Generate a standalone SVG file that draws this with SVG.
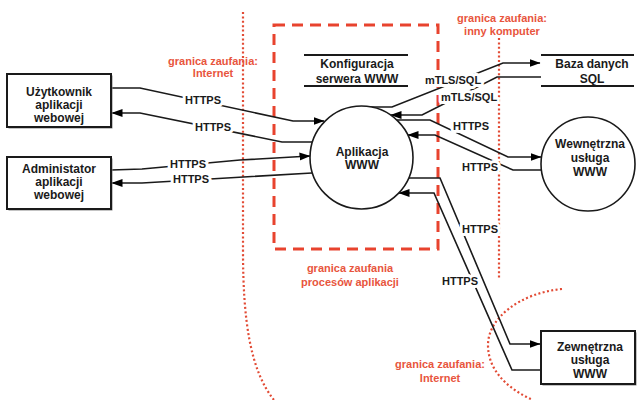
<svg xmlns="http://www.w3.org/2000/svg" width="639" height="400" viewBox="0 0 639 400">
<defs>
<marker id="ah" viewBox="0 0 11 9" markerWidth="11" markerHeight="9" refX="10.5" refY="4.5" orient="auto" markerUnits="userSpaceOnUse">
<path d="M0,0.5 L11,4.5 L0,8.5 z" fill="#000"/>
</marker>
<style>
.bnd{fill:none;stroke:#e24b35;stroke-width:2.2;stroke-dasharray:2 2.4}
.proc{fill:none;stroke:#e8432e;stroke-width:3;stroke-dasharray:11 7}
.rl{font-family:"Liberation Sans",Arial,sans-serif;font-weight:bold;font-size:11px;fill:#e8553d;text-anchor:middle}
.c{fill:none;stroke:#1a1a1a;stroke-width:1.6}
.cl{font-family:"Liberation Sans",Arial,sans-serif;font-weight:bold;font-size:11px;fill:#1a1a1a;text-anchor:middle;stroke:#fff;stroke-width:6;paint-order:stroke;stroke-linejoin:round}
.box{fill:#fff;stroke:#1a1a1a;stroke-width:2}
.sh{fill:#888}
.circ{fill:#fff;stroke:#1a1a1a;stroke-width:1.6}
.ds{stroke:#1a1a1a;stroke-width:2}
.t{font-family:"Liberation Sans",Arial,sans-serif;font-weight:bold;font-size:12px;fill:#1a1a1a;text-anchor:middle}
</style>
</defs>
<rect width="639" height="400" fill="#fff"/>

<g id="boundaries">
<path class="bnd" d="M243,12 V250 C243,320 250,370 274,400"/>
<path class="bnd" d="M499,38 V280"/>
<path class="bnd" d="M562,289 C520,293 488,318 488,345 C488,372 510,390 533,400"/>
<rect class="proc" x="274" y="25" width="164" height="224"/>
<text class="rl" x="213" y="65">granica zaufania:</text>
<text class="rl" x="213" y="77">Internet</text>
<text class="rl" x="502" y="22">granica zaufania:</text>
<text class="rl" x="502" y="35">inny komputer</text>
<text class="rl" x="350" y="272">granica zaufania</text>
<text class="rl" x="350" y="286">procesów aplikacji</text>
<text class="rl" x="440" y="368">granica zaufania:</text>
<text class="rl" x="440" y="382">Internet</text>
</g>

<g id="connectors">
<path class="c" marker-end="url(#ah)" d="M111,88 H140 L293,121 H324"/>
<path class="c" marker-end="url(#ah)" d="M312,142 H282 L140,113 H112"/>
<path class="c" marker-end="url(#ah)" d="M111,170 L142,169 L240,160 L310,156"/>
<path class="c" marker-end="url(#ah)" d="M312,173 L210,179 L142,183 H112"/>
<path class="c" marker-end="url(#ah)" d="M353,107 H392 L503,63 H540"/>
<path class="c" marker-end="url(#ah)" d="M541,77 H497 L422,115 H391"/>
<path class="c" marker-end="url(#ah)" d="M397,120 H430 L508,157 H541"/>
<path class="c" marker-end="url(#ah)" d="M541,170 H513 L435,135 H408"/>
<path class="c" marker-end="url(#ah)" d="M409,178 H440 L510,344 H540"/>
<path class="c" marker-end="url(#ah)" d="M541,370 H512 L434,193 H399"/>
<text class="cl" x="203" y="104">HTTPS</text>
<text class="cl" x="213" y="131">HTTPS</text>
<text class="cl" x="188" y="168">HTTPS</text>
<text class="cl" x="191" y="183">HTTPS</text>
<text class="cl" x="453" y="84">mTLS/SQL</text>
<text class="cl" x="469" y="101">mTLS/SQL</text>
<text class="cl" x="471" y="130">HTTPS</text>
<text class="cl" x="480" y="171">HTTPS</text>
<text class="cl" x="480" y="233">HTTPS</text>
<text class="cl" x="460" y="285">HTTPS</text>
</g>

<g id="uzytkownik">
<rect class="sh" x="8.5" y="75.5" width="104" height="53"/>
<rect class="box" x="7" y="74" width="104" height="53"/>
<text class="t" x="59" y="95.5">Użytkownik</text>
<text class="t" x="59" y="108.5">aplikacji</text>
<text class="t" x="59" y="121.5">webowej</text>
</g>

<g id="administator">
<rect class="sh" x="8.5" y="158.5" width="104" height="52"/>
<rect class="box" x="7" y="157" width="104" height="52"/>
<text class="t" x="59" y="173">Administator</text>
<text class="t" x="59" y="186">aplikacji</text>
<text class="t" x="59" y="199">webowej</text>
</g>

<g id="aplikacja">
<circle class="circ" cx="361.5" cy="157.5" r="51.5"/>
<text class="t" x="362" y="155.5">Aplikacja</text>
<text class="t" x="362" y="168.5">WWW</text>
</g>

<g id="konfiguracja">
<line class="ds" x1="304" y1="55" x2="408" y2="55"/>
<line class="ds" x1="304" y1="86" x2="408" y2="86"/>
<text class="t" x="357" y="67.5">Konfiguracja</text>
<text class="t" x="357" y="82.5">serwera WWW</text>
</g>

<g id="baza">
<line class="ds" x1="541" y1="55" x2="634" y2="55"/>
<line class="ds" x1="541" y1="86" x2="634" y2="86"/>
<text class="t" x="592" y="67.5">Baza danych</text>
<text class="t" x="592" y="82.5">SQL</text>
</g>

<g id="wewnetrzna">
<circle class="circ" cx="588" cy="164" r="47"/>
<text class="t" x="590" y="147.5">Wewnętrzna</text>
<text class="t" x="590" y="161.5">usługa</text>
<text class="t" x="590" y="175.5">WWW</text>
</g>

<g id="zewnetrzna">
<rect class="sh" x="542.5" y="332.5" width="94" height="53"/>
<rect class="box" x="541" y="331" width="94" height="53"/>
<text class="t" x="590" y="350.5">Zewnętrzna</text>
<text class="t" x="590" y="364">usługa</text>
<text class="t" x="590" y="377.5">WWW</text>
</g>
</svg>
